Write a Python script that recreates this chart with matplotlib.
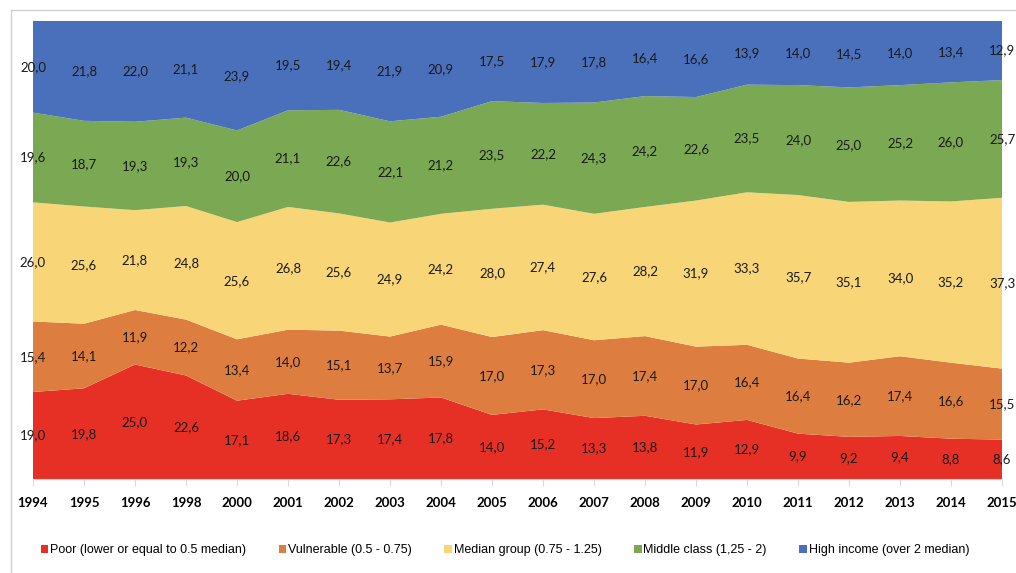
#!/usr/bin/env python3
# income_groups_stacked_area.py

import numpy as np
import matplotlib.pyplot as plt
from matplotlib.lines import Line2D

years = ["1994", "1995", "1996", "1998", "2000", "2001", "2002", "2003", "2004", "2005", "2006",
         "2007", "2008", "2009", "2010", "2011", "2012", "2013", "2014", "2015"]

poor = [19.0, 19.8, 25.0, 22.6, 17.1, 18.6, 17.3, 17.4, 17.8, 14.0, 15.2,
        13.3, 13.8, 11.9, 12.9, 9.9, 9.2, 9.4, 8.8, 8.6]
vulnerable = [15.4, 14.1, 11.9, 12.2, 13.4, 14.0, 15.1, 13.7, 15.9, 17.0, 17.3,
              17.0, 17.4, 17.0, 16.4, 16.4, 16.2, 17.4, 16.6, 15.5]
median_group = [26.0, 25.6, 21.8, 24.8, 25.6, 26.8, 25.6, 24.9, 24.2, 28.0, 27.4,
                27.6, 28.2, 31.9, 33.3, 35.7, 35.1, 34.0, 35.2, 37.3]
middle_class = [19.6, 18.7, 19.3, 19.3, 20.0, 21.1, 22.6, 22.1, 21.2, 23.5, 22.2,
                24.3, 24.2, 22.6, 23.5, 24.0, 25.0, 25.2, 26.0, 25.7]
high_income = [20.0, 21.8, 22.0, 21.1, 23.9, 19.5, 19.4, 21.9, 20.9, 17.5, 17.9,
               17.8, 16.4, 16.6, 13.9, 14.0, 14.5, 14.0, 13.4, 12.9]

series_names = ["Poor (lower or equal to 0.5 median)", "Vulnerable (0.5 - 0.75)",
                "Median group (0.75 - 1.25)", "Middle class (1,25 - 2)",
                "High income (over 2 median)"]
colors = ["#E63026", "#DD7E40", "#F8D677", "#7BA852", "#4A70BC"]


def main():
    data = np.array([poor, vulnerable, median_group, middle_class, high_income], dtype=float)
    # normalise each year to 100 (chart is a 100% stacked area)
    shares = data / data.sum(axis=0) * 100.0
    x = np.arange(len(years))

    fig = plt.figure(figsize=(10.16, 5.73), dpi=100)
    ax = fig.add_axes([33 / 1016, 1 - 479 / 573, (1002 - 33) / 1016, (479 - 21) / 573])

    ax.stackplot(x, shares, colors=colors, labels=series_names, linewidth=0)

    # value labels in the middle of each band
    bottoms = np.cumsum(shares, axis=0) - shares
    for i in range(data.shape[0]):
        for j in range(len(years)):
            y = bottoms[i, j] + shares[i, j] / 2
            ax.text(x[j], y, f"{data[i, j]:.1f}".replace(".", ","),
                    ha="center", va="center", fontsize=9.5, family="Lato", color="#1a1a1a")

    ax.set_xlim(0, len(years) - 1)
    ax.set_ylim(0, 100)
    ax.set_xticks(x)
    ax.set_xticklabels(years, fontsize=9.5, fontweight="bold", family="Lato")
    ax.set_yticks([])
    for side in ["top", "left", "right"]:
        ax.spines[side].set_visible(False)
    ax.spines["bottom"].set_color("#d9d9d9")
    ax.tick_params(axis="x", length=5, color="#d9d9d9", pad=8)

    handles, labels = ax.get_legend_handles_labels()
    fig.legend(handles, labels, loc="center", bbox_to_anchor=(505 / 1016, 1 - 550 / 573), ncol=5,
               frameon=False, handlelength=0.6, handleheight=0.6, handletextpad=0.15,
               columnspacing=2.6, prop={"family": "Liberation Sans", "size": 9})

    # light frame lines (top and left) around the chart
    top = 1 - 9.5 / 573
    left = 10.5 / 1016
    fig.add_artist(Line2D([left, 1.0], [top, top], transform=fig.transFigure,
                          color="#cfcfcf", linewidth=1))
    fig.add_artist(Line2D([left, left], [0.0, top], transform=fig.transFigure,
                          color="#cfcfcf", linewidth=1))

    fig.savefig("out.png", dpi=100)
    plt.close(fig)


if __name__ == "__main__":
    main()
